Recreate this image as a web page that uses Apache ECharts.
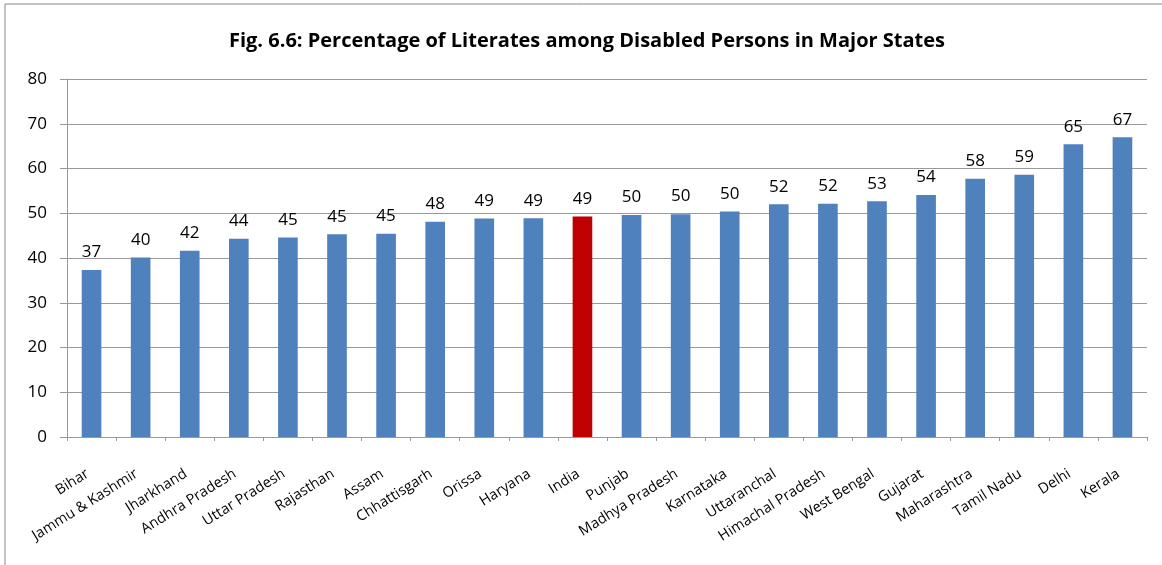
<!DOCTYPE html>
<html>
<head>
<meta charset="utf-8">
<script src="https://cdn.jsdelivr.net/npm/echarts@6/dist/echarts.min.js"></script>
<style>
  html, body { margin: 0; padding: 0; background: #fff; }
  #main { width: 1162px; height: 565px; }
</style>
</head>
<body>
<div id="main"></div>
<script>
// states, sorted by literacy among disabled persons
const states = ['Bihar', 'Jammu & Kashmir', 'Jharkhand', 'Andhra Pradesh', 'Uttar Pradesh',
    'Rajasthan', 'Assam', 'Chhattisgarh', 'Orissa', 'Haryana', 'India', 'Punjab',
    'Madhya Pradesh', 'Karnataka', 'Uttaranchal', 'Himachal Pradesh', 'West Bengal',
    'Gujarat', 'Maharashtra', 'Tamil Nadu', 'Delhi', 'Kerala']
const literacy = [37.3, 40.1, 41.6, 44.3, 44.6, 45.3, 45.4, 48.1, 48.8, 48.9, 49.3, 49.6,
    49.8, 50.4, 52.0, 52.1, 52.7, 54.1, 57.7, 58.6, 65.4, 67.0]
const highlight = 'India'

const chart = echarts.init(document.getElementById('main'))

const barData = literacy.map((v, i) => ({
    value: v,
    itemStyle: { color: states[i] === highlight ? '#C00000' : '#4F81BD' }
}))

const option = {
    backgroundColor: '#fff',
    textStyle: { fontFamily: 'Open Sans' },
    title: {
        text: 'Fig. 6.6: Percentage of Literates among Disabled Persons in Major States',
        left: 582,
        top: 26,
        textAlign: 'center',
        textStyle: { fontSize: 20, fontWeight: 'bold', color: '#000', fontFamily: 'Open Sans' }
    },
    graphic: [{
        type: 'polyline',
        shape: { points: [[5, 565], [5, 4], [1162, 4]] },
        style: { stroke: '#888', lineWidth: 1, fill: null }
    }],
    grid: { left: 67, right: 15, top: 79, bottom: 128 },
    xAxis: {
        type: 'category',
        data: states,
        axisLine: { lineStyle: { color: '#999' } },
        axisTick: { show: true, length: 4, lineStyle: { color: '#999' } },
        axisLabel: {
            rotate: 32, fontSize: 14.5, color: '#000', interval: 0,
            margin: 42, verticalAlign: 'bottom'
        }
    },
    yAxis: {
        type: 'value',
        min: 0,
        max: 80,
        interval: 10,
        axisLine: { show: true, lineStyle: { color: '#999' } },
        axisTick: { show: true, length: 7, lineStyle: { color: '#999' } },
        splitLine: { lineStyle: { color: '#999' } },
        axisLabel: { fontSize: 17, color: '#000', margin: 20 }
    },
    series: [{
        type: 'bar',
        data: barData,
        barWidth: '40%',
        label: {
            show: true,
            position: 'top',
            fontSize: 17,
            color: '#000',
            distance: 9,
            formatter: p => Math.round(p.value)
        }
    }]
}

chart.setOption(option)
</script>
</body>
</html>
